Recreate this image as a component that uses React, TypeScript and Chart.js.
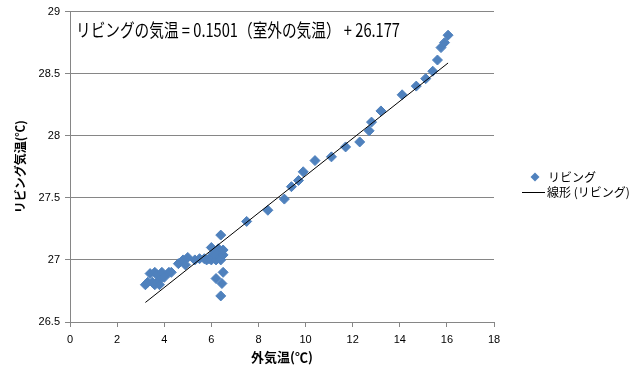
import React, { useEffect, useRef } from "react";
import { Chart, registerables } from "chart.js";

Chart.register(...registerables);

// Outdoor temperature (x) and living-room temperature (y)
const outdoorTemp = [
  3.2, 3.3, 3.4, 3.5, 3.6, 3.6, 3.7, 3.8, 3.8, 3.9, 4.0, 4.2, 4.3,
  4.6, 4.8, 4.9, 5.0, 5.3, 5.5, 5.7, 5.8, 5.9, 6.0, 6.0, 6.1, 6.2,
  6.3, 6.3, 6.4, 6.4, 6.5, 6.5, 6.5, 6.2, 6.45, 6.4, 6.1,
  7.5, 8.4, 9.1, 9.4, 9.7, 9.9, 10.4, 11.1, 11.7, 12.3, 12.7, 12.8,
  13.2, 14.1, 14.7, 15.1, 15.4, 15.6, 15.75, 15.9, 16.05,
];
const livingTemp = [
  26.8, 26.82, 26.89, 26.82, 26.9, 26.8, 26.88, 26.84, 26.8, 26.9, 26.86, 26.9, 26.9,
  26.97, 27.0, 26.96, 27.02, 27.0, 27.01, 27.01, 27.0, 27.01, 27.1, 27.0, 27.02, 27.0,
  27.09, 27.03, 27.2, 27.0, 27.04, 27.08, 26.9, 26.85, 26.81, 26.71, 27.05,
  27.31, 27.4, 27.49, 27.59, 27.64, 27.71, 27.8, 27.83, 27.91, 27.95, 28.04, 28.11,
  28.2, 28.33, 28.4, 28.46, 28.52, 28.61, 28.71, 28.75, 28.81,
];

const xTickMin = 0;
const xTickMax = 18;
const xTickStep = 2;
const yTickMin = 26.5;
const yTickMax = 29;
const yTickStep = 0.5;

const trendSlope = 0.1501;
const trendIntercept = 26.177;

const seriesName = "リビング";
const trendName = "線形 (リビング)";
const equationText = "リビングの気温 = 0.1501（室外の気温） + 26.177";
const xTitle = "外気温(℃)";
const yTitle = "リビング気温(℃)";

const markerColor = "#4F81BD";
const gridColor = "#868686";

export default function App() {
  const canvasRef = useRef<HTMLCanvasElement | null>(null);

  useEffect(() => {
    const canvas = canvasRef.current;
    if (!canvas) return;

    const points = outdoorTemp.map((x, i) => ({ x, y: livingTemp[i] }));
    const xMinData = Math.min(...outdoorTemp);
    const xMaxData = Math.max(...outdoorTemp);
    const trendPoints = [
      { x: xMinData, y: trendSlope * xMinData + trendIntercept },
      { x: xMaxData, y: trendSlope * xMaxData + trendIntercept },
    ];

    const overlayPlugin = {
      id: "overlay",
      afterDraw(chart: any) {
        const ctx = chart.ctx as CanvasRenderingContext2D;
        ctx.save();
        // equation
        ctx.font = '18px "Noto Sans CJK JP"';
        ctx.fillStyle = "#000";
        ctx.textBaseline = "middle";
        ctx.textAlign = "left";
        ctx.fillText(equationText, 76, 30, 324);

        // legend
        ctx.font = '12px "Noto Sans CJK JP"';
        ctx.fillStyle = markerColor;
        const cx = 535;
        const cy = 177;
        const r = 4.5;
        ctx.beginPath();
        ctx.moveTo(cx, cy - r);
        ctx.lineTo(cx + r, cy);
        ctx.lineTo(cx, cy + r);
        ctx.lineTo(cx - r, cy);
        ctx.closePath();
        ctx.fill();
        ctx.fillStyle = "#000";
        ctx.fillText(seriesName, 548, cy);

        ctx.strokeStyle = "#000";
        ctx.lineWidth = 1;
        ctx.beginPath();
        ctx.moveTo(522, 192.5);
        ctx.lineTo(545, 192.5);
        ctx.stroke();
        ctx.fillText(trendName, 547, 192);
        ctx.restore();
      },
    };

    const chart = new Chart(canvas, {
      type: "scatter",
      data: {
        datasets: [
          {
            label: seriesName,
            data: points,
            pointStyle: "rectRot",
            pointRadius: 5,
            backgroundColor: markerColor,
            borderColor: markerColor,
            borderWidth: 1,
            order: 2,
          },
          {
            label: trendName,
            data: trendPoints,
            showLine: true,
            pointRadius: 0,
            borderColor: "#000",
            borderWidth: 1,
            order: 1,
          } as any,
        ],
      },
      options: {
        responsive: false,
        animation: false,
        devicePixelRatio: 1,
        layout: { padding: { left: 0, top: 11, right: 150, bottom: 0 } },
        plugins: {
          legend: { display: false },
          tooltip: { enabled: false },
        },
        scales: {
          x: {
            type: "linear",
            min: xTickMin,
            max: xTickMax,
            ticks: {
              stepSize: xTickStep,
              color: "#000",
              font: { family: "Liberation Sans", size: 11 },
              padding: 6,
              maxRotation: 0,
              callback: (v: any) => String(Number(v)),
            },
            grid: {
              drawOnChartArea: false,
              drawTicks: true,
              tickLength: 5,
              color: gridColor,
            },
            border: { display: true, color: gridColor },
            title: {
              display: true,
              text: xTitle,
              color: "#000",
              font: { family: "Noto Sans CJK JP", size: 13, weight: "bold" },
              padding: { top: 0, bottom: 8 },
            },
            afterFit(scale: any) {
              scale.height = 51;
            },
          },
          y: {
            type: "linear",
            min: yTickMin,
            max: yTickMax,
            ticks: {
              stepSize: yTickStep,
              color: "#000",
              font: { family: "Liberation Sans", size: 11 },
              padding: 5,
              callback: (v: any) => String(Number(v)),
            },
            grid: {
              drawOnChartArea: true,
              drawTicks: true,
              tickLength: 5,
              color: gridColor,
            },
            border: { display: true, color: gridColor },
            title: {
              display: true,
              text: yTitle,
              color: "#000",
              font: { family: "Noto Sans CJK JP", size: 12, weight: "bold" },
              padding: { top: 13, bottom: 0 },
            },
            afterFit(scale: any) {
              scale.width = 70;
            },
          },
        },
      },
      plugins: [overlayPlugin],
    });

    return () => chart.destroy();
  }, []);

  return (
    <div style={{ position: "absolute", left: 0, top: 0, width: 644, height: 373, background: "#fff" }}>
      <canvas ref={canvasRef} width={644} height={373} />
    </div>
  );
}
